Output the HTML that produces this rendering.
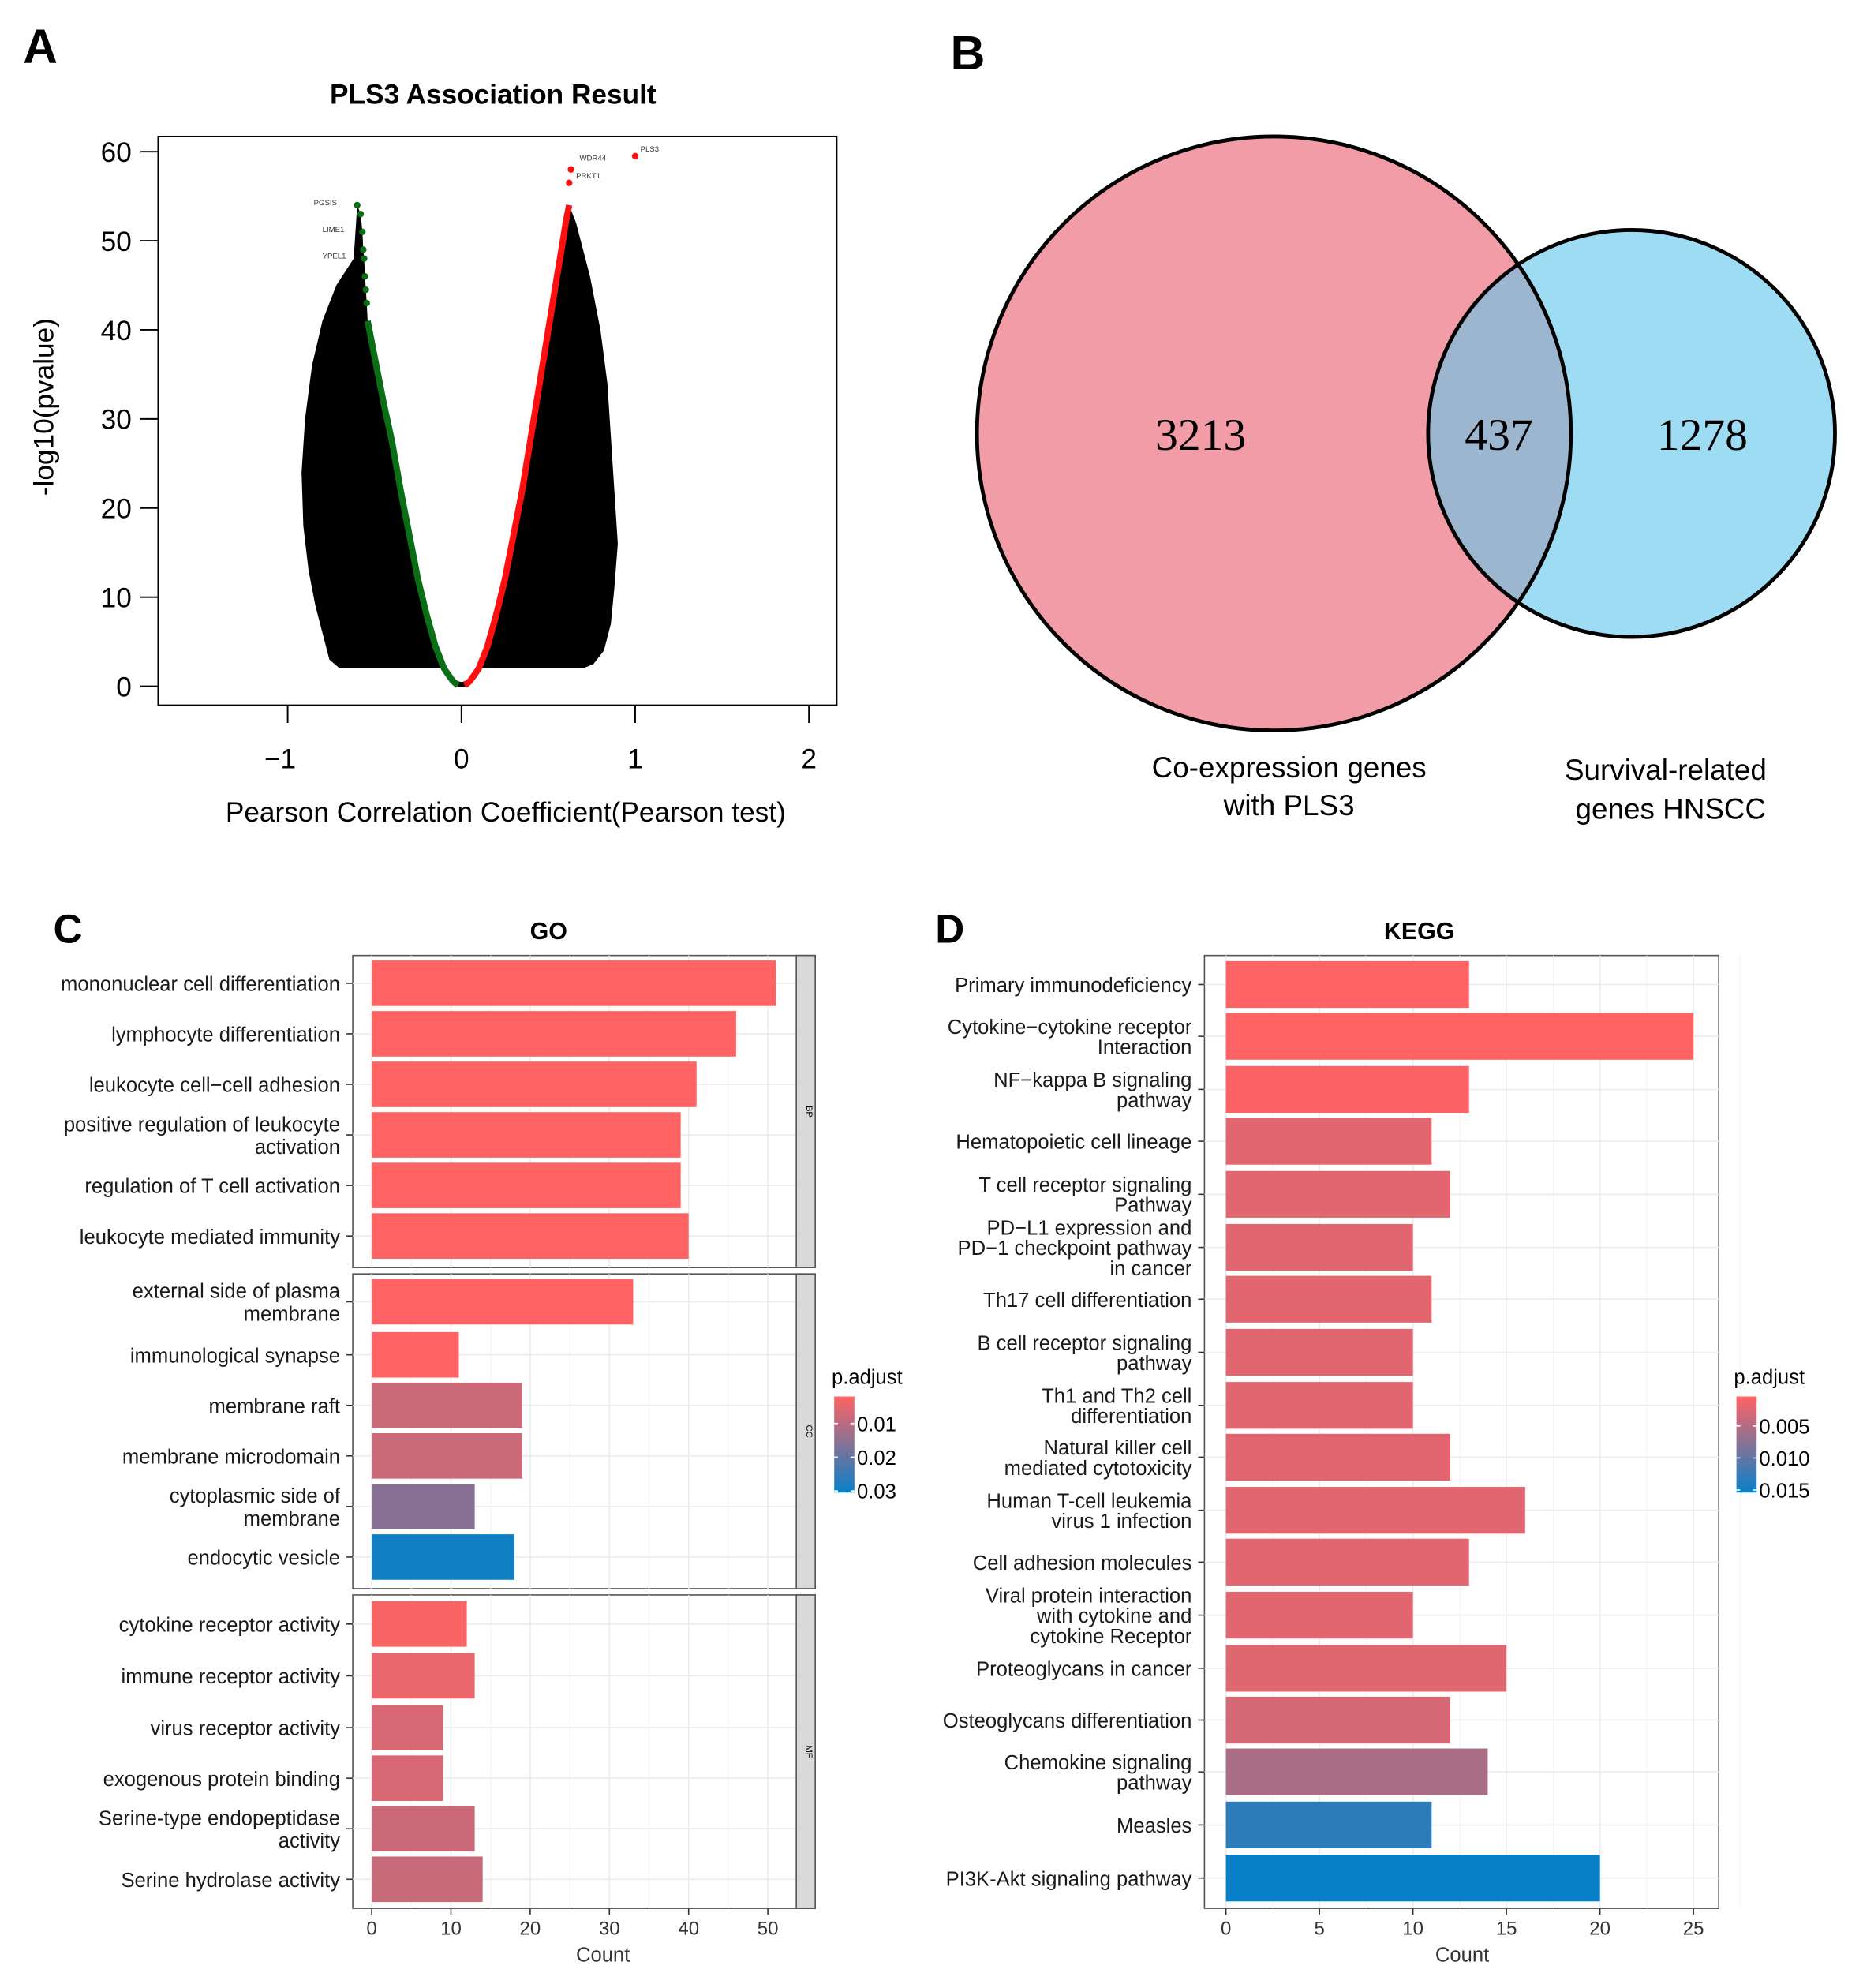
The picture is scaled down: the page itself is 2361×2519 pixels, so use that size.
<!DOCTYPE html>
<html><head><meta charset="utf-8"><style>
html,body{margin:0;padding:0;background:#fff;}
svg{display:block;font-family:"Liberation Sans",Arial,sans-serif;}
</style></head><body>
<svg id="fig" width="2361" height="2519" viewBox="0 0 1474 1573" xmlns="http://www.w3.org/2000/svg">
<g id="pa"></g>
<g id="pb"></g>
<g id="pc"></g>
<g id="pd"></g>
</svg>
<script>
// ---------- Panel A data ----------
const volXTicks = [-1, 0, 1, 2];
const volYTicks = [0, 10, 20, 30, 40, 50, 60];
const redR = [0.02,0.05,0.1,0.15,0.2,0.25,0.3,0.35,0.4,0.45,0.5,0.55,0.58,0.6,0.62];
const redY = [0.1,0.6,2,4.5,8,12,17,22,28,34,40,46,49.5,52,54];
const greenR = [-0.02,-0.05,-0.1,-0.15,-0.2,-0.25,-0.3,-0.35,-0.4,-0.45,-0.5,-0.54];
const greenY = [0.1,0.6,2,4.5,8,12,17,22,27.5,32,37,41];
const greenTopR = [-0.545,-0.55,-0.555,-0.56,-0.565,-0.57,-0.58,-0.6];
const greenTopY = [43,44.5,46,48,49,51,53,54];
const redTopR = [0.62,0.63,1.0];
const redTopY = [56.5,58,59.5];
const cloudLeftR = [-0.62,-0.72,-0.8,-0.86,-0.9,-0.92,-0.91,-0.88,-0.84,-0.8,-0.76,-0.7];
const cloudLeftY = [48,45,41,36,30,24,18,13,9,6,3,2];
const cloudRightR = [0.66,0.74,0.8,0.84,0.86,0.88,0.9,0.88,0.86,0.82,0.76,0.7];
const cloudRightY = [52,46,40,34,28,22,16,11,7,4,2.5,2];

// ---------- Panel C data ----------
const goTerms = [
 ["mononuclear cell differentiation"],["lymphocyte differentiation"],["leukocyte cell−cell adhesion"],
 ["positive regulation of leukocyte","activation"],["regulation of T cell activation"],["leukocyte mediated  immunity"],
 ["external side of plasma","membrane"],["immunological synapse"],["membrane raft"],["membrane microdomain"],
 ["cytoplasmic side of","membrane"],["endocytic vesicle"],
 ["cytokine receptor activity"],["immune receptor activity"],["virus receptor activity"],["exogenous  protein binding"],
 ["Serine-type endopeptidase","activity"],["Serine hydrolase activity"]];
const goCounts = [51,46,41,39,39,40, 33,11,19,19,13,18, 12,13,9,9,13,14];
const goPadj = [0.002,0.002,0.002,0.002,0.002,0.002, 0.002,0.002,0.008,0.008,0.016,0.0295, 0.0025,0.0045,0.0065,0.0065,0.008,0.0085];
const goFacets = ["BP","CC","MF"];
const goXTicks = [0,10,20,30,40,50];
const goLegTicks = [0.01,0.02,0.03];

// ---------- Panel D data ----------
const keggTerms = [
 ["Primary immunodeficiency"],["Cytokine−cytokine receptor","Interaction"],["NF−kappa  B signaling","pathway"],
 ["Hematopoietic cell  lineage"],["T cell  receptor signaling","Pathway"],["PD−L1 expression and","PD−1 checkpoint pathway","in cancer"],
 ["Th17 cell differentiation"],["B cell  receptor signaling","pathway"],["Th1 and Th2 cell","differentiation"],
 ["Natural killer cell","mediated cytotoxicity"],["Human T-cell leukemia","virus 1 infection"],["Cell adhesion molecules"],
 ["Viral protein interaction","with cytokine and","cytokine Receptor"],["Proteoglycans in cancer"],["Osteoglycans differentiation"],
 ["Chemokine signaling","pathway"],["Measles"],["PI3K-Akt signaling pathway"]];
const keggCounts = [13,25,13,11,12,10,11,10,10,12,16,13,10,15,12,14,11,20];
const keggPadj = [0.0004,0.0004,0.0005,0.0022,0.0022,0.0022,0.0022,0.0022,0.0022,0.0022,0.0022,0.0022,0.0022,0.0024,0.003,0.0056,0.0132,0.0154];
const keggXTicks = [0,5,10,15,20,25];
const keggLegTicks = [0.005,0.010,0.015];

const NS="http://www.w3.org/2000/svg";
function mk(parent, tag, attrs, text){
  const e=document.createElementNS(NS,tag);
  for(const k in attrs) e.setAttribute(k,attrs[k]);
  if(text!==undefined) e.textContent=text;
  parent.appendChild(e); return e;
}
function lerpColor(t){
  t=Math.max(0,Math.min(1,t));
  const a=[255,99,99], b=[8,128,200];
  const c=a.map((v,i)=>Math.round(v+(b[i]-v)*t));
  return `rgb(${c[0]},${c[1]},${c[2]})`;
}

// ================= Panel A =================
(function(){
  const g=document.getElementById('pa');
  const X=r=>365+r*137.5, Y=v=>543-v*7.05;
  let t=mk(g,'text',{x:18,y:50,'font-size':38,'font-weight':'bold'},'A');
   
  t=mk(g,'text',{x:390,y:82,'font-size':22,'font-weight':'bold','text-anchor':'middle'},'PLS3 Association Result');
   
  let r=mk(g,'rect',{x:125,y:108,width:537,height:450,fill:'none',stroke:'#000','stroke-width':1.2});
   
  let pts=[];
  for(let i=greenTopR.length-1;i>=0;i--) pts.push([greenTopR[i],greenTopY[i]]);
  for(let i=greenR.length-1;i>=0;i--) if(greenY[i]>=2) pts.push([greenR[i],greenY[i]]);
  pts.push([-0.08,2]);
  for(let i=cloudLeftR.length-1;i>=0;i--) pts.push([cloudLeftR[i],cloudLeftY[i]]);
  let p=mk(g,'polygon',{points:pts.map(q=>X(q[0])+','+Y(q[1])).join(' '),fill:'#000'});
   
  pts=[];
  for(let i=0;i<redR.length;i++) if(redY[i]>=2) pts.push([redR[i],redY[i]]);
  for(let i=0;i<cloudRightR.length;i++) pts.push([cloudRightR[i],cloudRightY[i]]);
  pts.push([0.08,2]);
  p=mk(g,'polygon',{points:pts.map(q=>X(q[0])+','+Y(q[1])).join(' '),fill:'#000'});
   
  p=mk(g,'path',{d:`M${X(-0.09)},${Y(1.6)} Q${X(0)},${Y(-1.2)} ${X(0.09)},${Y(1.6)}`,fill:'none',stroke:'#000','stroke-width':4});
   
  p=mk(g,'polyline',{points:greenR.map((v,i)=>X(v)+','+Y(greenY[i])).join(' '),fill:'none',stroke:'#0a6e14','stroke-width':5});
   
  p=mk(g,'polyline',{points:redR.map((v,i)=>X(v)+','+Y(redY[i])).join(' '),fill:'none',stroke:'#ff1010','stroke-width':5});
   
  greenTopR.forEach((v,i)=>{
    const c=mk(g,'circle',{cx:X(v),cy:Y(greenTopY[i]),r:2.6,fill:'#0a6e14'});
     
  });
  redTopR.forEach((v,i)=>{
    const c=mk(g,'circle',{cx:X(v),cy:Y(redTopY[i]),r:2.6,fill:'#ff1010'});
     
  });
  [['PLS3',1.03,60],['WDR44',0.68,59],['PRKT1',0.66,57],['PGSIS',-0.85,54],['LIME1',-0.8,51],['YPEL1',-0.8,48]].forEach(l=>{
    const tt=mk(g,'text',{x:X(l[1]),y:Y(l[2]),'font-size':6,fill:'#333'},l[0]);
     
  });
  volYTicks.forEach(v=>{
    let l=mk(g,'line',{x1:111,x2:125,y1:Y(v),y2:Y(v),stroke:'#000','stroke-width':1.2});
     
    let tx=mk(g,'text',{x:104,y:Y(v)+8,'font-size':22,'text-anchor':'end'},v);
     
  });
  volXTicks.forEach(v=>{
    let l=mk(g,'line',{x1:X(v),x2:X(v),y1:558,y2:572,stroke:'#000','stroke-width':1.2});
     
    let tx=mk(g,'text',{x:X(v)-(v<0?6:0),y:608,'font-size':22,'text-anchor':'middle'},v<0?'−'+(-v):v);
     
  });
  t=mk(g,'text',{x:400,y:650,'font-size':22,'text-anchor':'middle'},'Pearson Correlation Coefficient(Pearson test)');
   
  t=mk(g,'text',{x:42,y:322,'font-size':22,'text-anchor':'middle',transform:'rotate(-90 42 322)'},'-log10(pvalue)');
   
})();

// ================= Panel B =================
(function(){
  const g=document.getElementById('pb');
  let t=mk(g,'text',{x:752,y:55,'font-size':38,'font-weight':'bold'},'B');
   
  mk(g,'defs',{}).innerHTML='<clipPath id="cp"><circle cx="1008" cy="343" r="235"/></clipPath>';
  let c=mk(g,'circle',{cx:1008,cy:343,r:235,fill:'#f19ca7'});
   
  c=mk(g,'circle',{cx:1291,cy:343,r:161,fill:'#9ddcf2'});
   
  c=mk(g,'circle',{cx:1291,cy:343,r:161,fill:'#9db6d0','clip-path':'url(#cp)'});
   
  mk(g,'circle',{cx:1008,cy:343,r:235,fill:'none',stroke:'#000','stroke-width':3});
  mk(g,'circle',{cx:1291,cy:343,r:161,fill:'none',stroke:'#000','stroke-width':3});
  [['3213',950,'count-coexpression-only'],['437',1186,'count-overlap'],['1278',1347,'count-survival-only']].forEach(a=>{
    const tt=mk(g,'text',{x:a[1],y:356,'font-size':36,'text-anchor':'middle','font-family':'Liberation Serif, serif'},a[0]);
     
  });
  [['Co-expression genes',1020,615],['with PLS3',1020,645],['Survival-related',1318,617],['genes HNSCC',1322,648]].forEach(a=>{
    const tt=mk(g,'text',{x:a[1],y:a[2],'font-size':23,'text-anchor':'middle'},a[0]);
     
  });
})();

// ================= Bar panel helper =================
function barPanel(g, cfg){
  let t=mk(g,'text',{x:cfg.letterX,y:746,'font-size':32,'font-weight':'bold'},cfg.letter);
   
  t=mk(g,'text',{x:cfg.titleX,y:743,'font-size':19,'font-weight':'bold','text-anchor':'middle'},cfg.title);
   
  const X=v=>cfg.x0+v*cfg.ppu;
  cfg.panels.forEach(pn=>{
    let r=mk(g,'rect',{x:cfg.left,y:pn[0],width:cfg.right-cfg.left,height:pn[1]-pn[0],fill:'#fff',stroke:'#555','stroke-width':1});
     
    cfg.grid.forEach(v=>{
      mk(g,'line',{x1:X(v),x2:X(v),y1:pn[0],y2:pn[1],stroke:'#ebebeb','stroke-width':1});
      mk(g,'line',{x1:X(v+cfg.grid[1]/2),x2:X(v+cfg.grid[1]/2),y1:pn[0],y2:pn[1],stroke:'#f4f4f4','stroke-width':0.7});
    });
  });
  const pmin=cfg.legMin, pmax=cfg.legMax;
  cfg.counts.forEach((v,i)=>{
    const cy=cfg.centers[i];
    mk(g,'line',{x1:cfg.left,x2:cfg.right-(cfg.strip?15:0),y1:cy,y2:cy,stroke:'#ebebeb','stroke-width':1});
    const b=mk(g,'rect',{x:X(0),y:cy-cfg.bh/2,width:X(v)-X(0),height:cfg.bh,fill:lerpColor((cfg.padj[i]-pmin)/(pmax-pmin))});
    
    
    mk(g,'line',{x1:cfg.left-5,x2:cfg.left,y1:cy,y2:cy,stroke:'#333','stroke-width':1});
    const lines=cfg.terms[i], lh=cfg.lh;
    lines.forEach((s,k)=>{
      const tt=mk(g,'text',{x:cfg.left-10,y:cy+6+(k-(lines.length-1)/2)*lh,'font-size':16,'text-anchor':'end',fill:'#1a1a1a'},s);
       
    });
  });
  if(cfg.strip){
    cfg.panels.forEach((pn,i)=>{
      const s=mk(g,'rect',{x:cfg.right-15,y:pn[0],width:15,height:pn[1]-pn[0],fill:'#d9d9d9',stroke:'#555','stroke-width':1});
       
      const tt=mk(g,'text',{x:cfg.right-7,y:(pn[0]+pn[1])/2,'font-size':7,'text-anchor':'middle',transform:`rotate(90 ${cfg.right-7} ${(pn[0]+pn[1])/2})`},goFacets[i]);
       
    });
  }
  const bottom=cfg.panels[cfg.panels.length-1][1];
  cfg.ticks.forEach(v=>{
    mk(g,'line',{x1:X(v),x2:X(v),y1:bottom,y2:bottom+5,stroke:'#333','stroke-width':1});
    const tt=mk(g,'text',{x:X(v),y:bottom+21,'font-size':15,'text-anchor':'middle',fill:'#333'},v);
     
  });
  t=mk(g,'text',{x:cfg.countX,y:bottom+42,'font-size':16,'text-anchor':'middle',fill:'#333'},'Count');
   
  const L=cfg.leg;
  t=mk(g,'text',{x:L.x-2,y:1095,'font-size':16},'p.adjust');
   
  const gid='grad'+cfg.letter;
  mk(g,'defs',{}).innerHTML=`<linearGradient id="${gid}" x1="0" y1="0" x2="0" y2="1"><stop offset="0" stop-color="${lerpColor(0)}"/><stop offset="0.5" stop-color="${lerpColor(0.5)}"/><stop offset="1" stop-color="${lerpColor(1)}"/></linearGradient>`;
  const lr=mk(g,'rect',{x:L.x,y:1105,width:16,height:76,fill:`url(#${gid})`});
   
  const LY=v=>1105+(v-pmin)/(pmax-pmin)*76;
  cfg.legTicks.forEach(v=>{
    mk(g,'line',{x1:L.x,x2:L.x+3,y1:LY(v),y2:LY(v),stroke:'#fff'});
    mk(g,'line',{x1:L.x+13,x2:L.x+16,y1:LY(v),y2:LY(v),stroke:'#fff'});
    const tt=mk(g,'text',{x:L.x+18,y:LY(v)+6,'font-size':16},v.toFixed(cfg.legDec));
     
  });
}

barPanel(document.getElementById('pc'),{
  letter:'C',letterX:42,title:'GO',titleX:434,left:279,right:645,x0:294,ppu:6.27,strip:true,
  panels:[[756,1003],[1008,1257],[1262,1510]],grid:[0,10,20,30,40,50],
  centers:[778,818,858,898,938,978,1030,1072,1112,1152,1192,1232,1285,1326,1367,1407,1447,1487],
  bh:36,lh:18,terms:goTerms,counts:goCounts,padj:goPadj,ticks:goXTicks,countX:477,
  leg:{x:660},legMin:0.002,legMax:0.0305,legTicks:goLegTicks,legDec:2
});
barPanel(document.getElementById('pd'),{
  letter:'D',letterX:740,title:'KEGG',titleX:1123,left:953,right:1360,x0:970,ppu:14.8,strip:false,
  panels:[[756,1510]],grid:[0,5,10,15,20,25],
  centers:[779,820,862,903,945,987,1028,1070,1112,1153,1195,1236,1278,1320,1361,1402,1444,1486],
  bh:37,lh:16,terms:keggTerms,counts:keggCounts,padj:keggPadj,ticks:keggXTicks,countX:1157,
  leg:{x:1374},legMin:0.0004,legMax:0.0154,legTicks:keggLegTicks,legDec:3
});
</script>
</body></html>
